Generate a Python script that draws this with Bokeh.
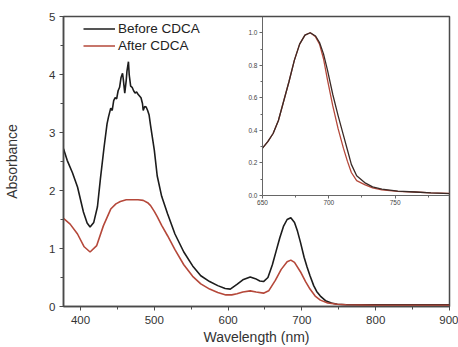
from bokeh.plotting import figure
from bokeh.models import (Range1d, LinearAxis, Legend, LegendItem, SingleIntervalTicker,
                          FixedTicker, NumeralTickFormatter)
from bokeh.embed import file_html
from bokeh.resources import INLINE

# ---- main spectra (absorbance vs wavelength, nm) ----
wl_before = [377, 382, 389, 396, 404, 409, 413, 418, 423, 427, 432, 436, 438, 441, 443, 445,
             447, 449, 451, 453, 455, 457, 458, 460, 462, 463, 465, 466, 468, 470, 472, 474,
             476, 478, 480, 482, 484, 485, 487, 489, 491, 493, 495, 497, 500, 504, 510, 518,
             528, 540, 552, 563, 575, 586, 596, 603, 612, 620, 630, 637, 643, 648, 654, 660,
             665, 670, 675, 680, 685, 690, 694, 698, 703, 707, 711, 716, 720, 725, 732, 740,
             748, 760, 800, 850, 900]
abs_before = [2.72, 2.52, 2.31, 2.06, 1.63, 1.44, 1.37, 1.45, 1.72, 2.20, 2.75, 3.15, 3.27, 3.42, 3.38, 3.55,
              3.60, 3.58, 3.72, 3.78, 3.95, 4.02, 3.92, 3.68, 3.90, 4.06, 4.22, 4.00, 3.80, 3.78, 3.72, 3.68,
              3.70, 3.66, 3.63, 3.60, 3.50, 3.38, 3.45, 3.44, 3.38, 3.30, 3.12, 2.95, 2.70, 2.25, 1.90, 1.60,
              1.25, 0.94, 0.70, 0.53, 0.43, 0.36, 0.31, 0.30, 0.38, 0.46, 0.51, 0.48, 0.44, 0.43, 0.50, 0.72,
              0.95, 1.18, 1.38, 1.50, 1.53, 1.45, 1.30, 1.11, 0.85, 0.68, 0.53, 0.36, 0.26, 0.18, 0.10, 0.06,
              0.04, 0.03, 0.03, 0.03, 0.03]

wl_after = [377, 386, 396, 405, 413, 422, 431, 441, 448, 454, 462, 470, 478, 485, 491, 495,
            500, 504, 510, 518, 528, 540, 552, 563, 575, 586, 597, 605, 612, 620, 630, 638,
            648, 655, 664, 672, 680, 685, 690, 698, 705, 711, 718, 725, 735, 748, 760, 800, 900]
abs_after = [1.52, 1.42, 1.25, 1.03, 0.94, 1.05, 1.39, 1.68, 1.77, 1.81, 1.84, 1.84, 1.84, 1.83, 1.79, 1.74,
             1.64, 1.55, 1.40, 1.22, 0.98, 0.72, 0.52, 0.39, 0.30, 0.24, 0.20, 0.20, 0.22, 0.25, 0.27, 0.25,
             0.23, 0.27, 0.45, 0.64, 0.77, 0.80, 0.76, 0.60, 0.43, 0.30, 0.18, 0.11, 0.06, 0.04, 0.03, 0.02, 0.02]

# ---- inset: normalized Q-band ----
ins_wl = [650, 654, 658, 662, 666, 670, 674, 678, 682, 686, 690, 693, 696, 699, 703, 707,
          711, 714, 717, 721, 727, 733, 740, 752, 765, 777, 791]
ins_before = [0.29, 0.33, 0.38, 0.46, 0.58, 0.70, 0.83, 0.93, 0.985, 1.0, 0.98, 0.94, 0.87, 0.77, 0.62, 0.49,
              0.37, 0.28, 0.19, 0.12, 0.078, 0.052, 0.038, 0.026, 0.02, 0.015, 0.01]
ins_after = [0.29, 0.33, 0.38, 0.46, 0.58, 0.70, 0.83, 0.93, 0.985, 1.0, 0.975, 0.93, 0.84, 0.71, 0.55, 0.41,
             0.29, 0.21, 0.14, 0.09, 0.065, 0.045, 0.033, 0.024, 0.02, 0.015, 0.012]
ins_yticks = [0.0, 0.2, 0.4, 0.6, 0.8, 1.0]
ins_yminor = [0.1, 0.3, 0.5, 0.7, 0.9]
ins_xticks = [650, 700, 750]
ins_xminor = [675, 725, 775]

labels = ["Before CDCA", "After CDCA"]
black = "#1c1c1c"
red = "#b5483a"
axis_col = "#4a4a4a"
font = "Liberation Sans"

p = figure(width=458, height=347, output_backend="svg", toolbar_location=None,
           x_range=Range1d(377, 900), y_range=Range1d(0, 5),
           min_border_left=63, min_border_right=9, min_border_top=16, min_border_bottom=39)
p.background_fill_color = "white"
p.border_fill_color = "white"
p.grid.visible = False
p.outline_line_color = axis_col
p.outline_line_width = 1.5

for ax in (p.xaxis[0], p.yaxis[0]):
    ax.axis_line_color = axis_col
    ax.axis_line_width = 1.5
    ax.major_tick_line_color = axis_col
    ax.minor_tick_line_color = axis_col
    ax.major_tick_in = 0
    ax.major_tick_out = 4
    ax.minor_tick_in = 0
    ax.minor_tick_out = 3
    ax.major_label_text_font = font
    ax.major_label_text_font_size = "11.5px"
    ax.major_label_text_color = "#333333"
    ax.axis_label_text_font = font
    ax.axis_label_text_font_size = "14px"
    ax.axis_label_text_font_style = "normal"
    ax.axis_label_text_color = "#333333"

p.xaxis[0].ticker = SingleIntervalTicker(interval=100, num_minor_ticks=2)
p.yaxis[0].ticker = SingleIntervalTicker(interval=1, num_minor_ticks=2)
p.xaxis[0].axis_label = "Wavelength (nm)"
p.yaxis[0].axis_label = "Absorbance"
p.xaxis[0].major_label_standoff = 5
p.xaxis[0].axis_label_standoff = 2
p.yaxis[0].major_label_standoff = 4
p.yaxis[0].axis_label_standoff = 26

r1 = p.line(wl_before, abs_before, line_color=black, line_width=1.6)
r2 = p.line(wl_after, abs_after, line_color=red, line_width=1.6)

# ---- inset placed in the upper right of the frame ----
ix = (650, 791)
iy = (0.0, 1.1)
fx = 199 / 386   # fraction of frame width left of the inset
fy = 112 / 292   # fraction of frame height below the inset
p.extra_x_ranges = {"ix": Range1d(ix[0] - (ix[1] - ix[0]) * fx / (1 - fx), ix[1])}
p.extra_y_ranges = {"iy": Range1d(iy[0] - (iy[1] - iy[0]) * fy / (1 - fy), iy[1])}

iya = LinearAxis(x_range_name="ix", y_range_name="iy", fixed_location=ix[0], bounds=iy,
                 ticker=FixedTicker(ticks=ins_yticks, minor_ticks=ins_yminor),
                 formatter=NumeralTickFormatter(format="0.0"))
ixa = LinearAxis(x_range_name="ix", y_range_name="iy", fixed_location=iy[0], bounds=ix,
                 ticker=FixedTicker(ticks=ins_xticks, minor_ticks=ins_xminor))
for ax in (iya, ixa):
    ax.axis_line_color = "#666666"
    ax.axis_line_width = 1
    ax.major_tick_line_color = "#666666"
    ax.minor_tick_line_color = "#666666"
    ax.major_tick_in = 0
    ax.major_tick_out = 3
    ax.minor_tick_in = 0
    ax.minor_tick_out = 2
    ax.major_label_text_font = font
    ax.major_label_text_font_size = "6.5px"
    ax.major_label_text_color = "#444444"
    ax.major_label_standoff = 2
p.add_layout(iya, "left")
p.add_layout(ixa, "below")

p.line(ins_wl, ins_after, x_range_name="ix", y_range_name="iy", line_color=red, line_width=1.3)
p.line(ins_wl, ins_before, x_range_name="ix", y_range_name="iy", line_color="#3a2a26", line_width=1.3)

legend = Legend(items=[LegendItem(label=labels[0], renderers=[r1]),
                       LegendItem(label=labels[1], renderers=[r2])],
                location=(20, 253))
legend.border_line_color = None
legend.background_fill_alpha = 0
legend.padding = 2
legend.margin = 0
legend.spacing = 2
legend.glyph_width = 32
legend.glyph_height = 15
legend.label_height = 15
legend.label_standoff = 3
legend.label_text_font = font
legend.label_text_font_size = "13.5px"
legend.label_text_color = "#222222"
p.add_layout(legend)

open("out.html", "w").write(file_html(p, INLINE))
